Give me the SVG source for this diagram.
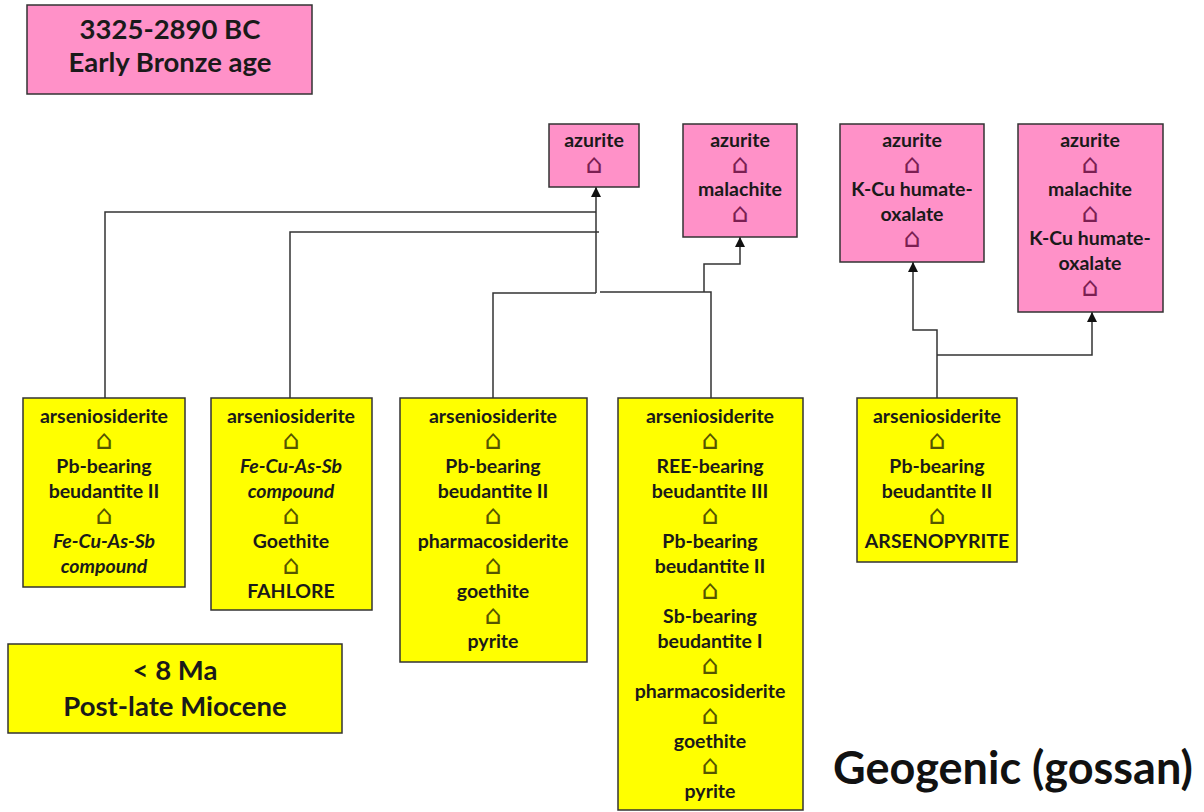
<svg xmlns="http://www.w3.org/2000/svg" width="1204" height="812" viewBox="0 0 1204 812">
<style>
.box{stroke:#333;stroke-width:1.5}
.pink{fill:#ff91c8}
.yel{fill:#ffff00}
.t{font-family:Lato,"Liberation Sans",sans-serif;font-weight:bold;font-size:19.5px;fill:#1a1a1a;text-anchor:middle}
.i{font-style:italic}
.big{font-family:Lato,"Liberation Sans",sans-serif;font-weight:bold;font-size:27.5px;fill:#1a1a1a;text-anchor:middle}
.sym{font-family:"DejaVu Sans",sans-serif;font-size:27px;text-anchor:middle}
.sp{fill:#7b1f52}
.sy{fill:#555500}
.c{fill:none;stroke:#333;stroke-width:1.5}
</style>
<defs>
<marker id="ah" viewBox="0 0 10 10" refX="10" refY="5" markerWidth="11" markerHeight="10" markerUnits="userSpaceOnUse" orient="auto"><path d="M0,0 L10,5 L0,10 z" fill="#111"/></marker>
</defs>
<rect width="1204" height="812" fill="#ffffff"/>

<g id="title-age">
<rect class="box pink" x="27" y="5" width="285" height="89"/>
<text class="big" x="170" y="39">3325-2890 BC</text>
<text class="big" x="170" y="72">Early Bronze age</text>
</g>

<g id="title-miocene">
<rect class="box yel" x="8" y="644" width="334" height="89"/>
<text class="big" x="175" y="680">&lt; 8 Ma</text>
<text class="big" x="175" y="716">Post-late Miocene</text>
</g>

<g id="geogenic">
<text x="1013" y="784" style="font-family:Lato,'Liberation Sans',sans-serif;font-weight:bold;font-size:45px;fill:#111;text-anchor:middle">Geogenic (gossan)</text>
</g>

<g id="connectors">
<path class="c" d="M105,398 V212 H596"/>
<path class="c" d="M596,293 V187" marker-end="url(#ah)"/>
<path class="c" d="M290,398 V232 H599"/>
<path class="c" d="M493,398 V293 H596"/>
<path class="c" d="M711,398 V292 H600"/>
<path class="c" d="M704,292 V264 H740 V237" marker-end="url(#ah)"/>
<path class="c" d="M937,398 V330 H913 V262" marker-end="url(#ah)"/>
<path class="c" d="M937,355 H1092 V312" marker-end="url(#ah)"/>
</g>

<g id="p1">
<rect class="box pink" x="549" y="124" width="90" height="63"/>
<text class="t" x="594" y="147">azurite</text>
<text class="sym sp" x="594" y="173">⌂</text>
</g>

<g id="p2">
<rect class="box pink" x="683" y="124" width="114" height="113"/>
<text class="t" x="740" y="147">azurite</text>
<text class="sym sp" x="740" y="173">⌂</text>
<text class="t" x="740" y="196">malachite</text>
<text class="sym sp" x="740" y="222">⌂</text>
</g>

<g id="p3">
<rect class="box pink" x="840" y="124" width="144" height="138"/>
<text class="t" x="912" y="147">azurite</text>
<text class="sym sp" x="912" y="173">⌂</text>
<text class="t" x="912" y="196">K-Cu humate-</text>
<text class="t" x="912" y="221">oxalate</text>
<text class="sym sp" x="912" y="247">⌂</text>
</g>

<g id="p4">
<rect class="box pink" x="1018" y="124" width="145" height="188"/>
<text class="t" x="1090" y="147">azurite</text>
<text class="sym sp" x="1090" y="173">⌂</text>
<text class="t" x="1090" y="196">malachite</text>
<text class="sym sp" x="1090" y="222">⌂</text>
<text class="t" x="1090" y="245">K-Cu humate-</text>
<text class="t" x="1090" y="270">oxalate</text>
<text class="sym sp" x="1090" y="296">⌂</text>
</g>

<g id="y1">
<rect class="box yel" x="23" y="398" width="162" height="189"/>
<text class="t" x="104" y="423">arseniosiderite</text>
<text class="sym sy" x="104" y="449">⌂</text>
<text class="t" x="104" y="473">Pb-bearing</text>
<text class="t" x="104" y="498">beudantite II</text>
<text class="sym sy" x="104" y="524">⌂</text>
<text class="t i" x="104" y="548">Fe-Cu-As-Sb</text>
<text class="t i" x="104" y="573">compound</text>
</g>

<g id="y2">
<rect class="box yel" x="211" y="398" width="161" height="212"/>
<text class="t" x="291" y="423">arseniosiderite</text>
<text class="sym sy" x="291" y="449">⌂</text>
<text class="t i" x="291" y="473">Fe-Cu-As-Sb</text>
<text class="t i" x="291" y="498">compound</text>
<text class="sym sy" x="291" y="524">⌂</text>
<text class="t" x="291" y="548">Goethite</text>
<text class="sym sy" x="291" y="574">⌂</text>
<text class="t" x="291" y="598">FAHLORE</text>
</g>

<g id="y3">
<rect class="box yel" x="400" y="398" width="187" height="264"/>
<text class="t" x="493" y="423">arseniosiderite</text>
<text class="sym sy" x="493" y="449">⌂</text>
<text class="t" x="493" y="473">Pb-bearing</text>
<text class="t" x="493" y="498">beudantite II</text>
<text class="sym sy" x="493" y="524">⌂</text>
<text class="t" x="493" y="548">pharmacosiderite</text>
<text class="sym sy" x="493" y="574">⌂</text>
<text class="t" x="493" y="598">goethite</text>
<text class="sym sy" x="493" y="624">⌂</text>
<text class="t" x="493" y="648">pyrite</text>
</g>

<g id="y4">
<rect class="box yel" x="618" y="398" width="185" height="412"/>
<text class="t" x="710" y="423">arseniosiderite</text>
<text class="sym sy" x="710" y="449">⌂</text>
<text class="t" x="710" y="473">REE-bearing</text>
<text class="t" x="710" y="498">beudantite III</text>
<text class="sym sy" x="710" y="524">⌂</text>
<text class="t" x="710" y="548">Pb-bearing</text>
<text class="t" x="710" y="573">beudantite II</text>
<text class="sym sy" x="710" y="599">⌂</text>
<text class="t" x="710" y="623">Sb-bearing</text>
<text class="t" x="710" y="648">beudantite I</text>
<text class="sym sy" x="710" y="674">⌂</text>
<text class="t" x="710" y="698">pharmacosiderite</text>
<text class="sym sy" x="710" y="724">⌂</text>
<text class="t" x="710" y="748">goethite</text>
<text class="sym sy" x="710" y="774">⌂</text>
<text class="t" x="710" y="798">pyrite</text>
</g>

<g id="y5">
<rect class="box yel" x="857" y="398" width="160" height="164"/>
<text class="t" x="937" y="423">arseniosiderite</text>
<text class="sym sy" x="937" y="449">⌂</text>
<text class="t" x="937" y="473">Pb-bearing</text>
<text class="t" x="937" y="498">beudantite II</text>
<text class="sym sy" x="937" y="524">⌂</text>
<text class="t" x="937" y="548">ARSENOPYRITE</text>
</g>
</svg>
